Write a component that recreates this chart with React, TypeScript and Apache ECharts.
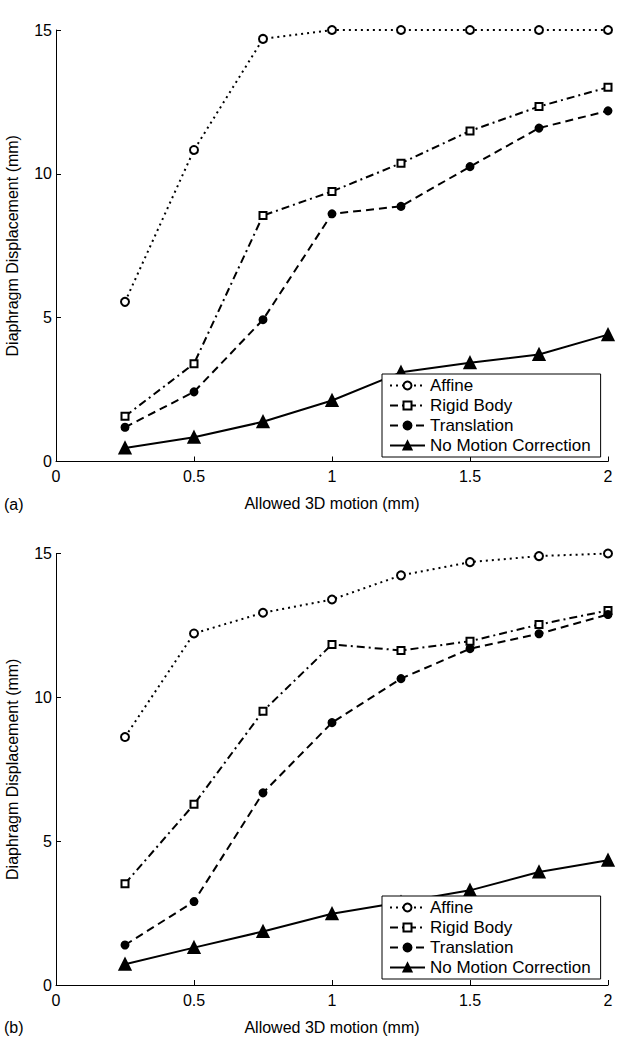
import React, { useEffect, useRef } from "react";
import * as echarts from "echarts";

const xValues = [0.25, 0.5, 0.75, 1, 1.25, 1.5, 1.75, 2];
const xTicks = ["0", "0.5", "1", "1.5", "2"];
const seriesNames = ["Affine", "Rigid Body", "Translation", "No Motion Correction"];

const affineA = [5.55, 10.83, 14.69, 15.0, 15.0, 15.0, 15.0, 15.0];
const rigidA = [1.57, 3.4, 8.55, 9.39, 10.37, 11.49, 12.34, 13.01];
const translationA = [1.19, 2.42, 4.93, 8.61, 8.87, 10.25, 11.59, 12.19];
const noMotionA = [0.47, 0.84, 1.38, 2.12, 3.1, 3.43, 3.72, 4.41];

const affineB = [8.62, 12.22, 12.94, 13.4, 14.24, 14.7, 14.91, 15.0];
const rigidB = [3.52, 6.28, 9.52, 11.84, 11.63, 11.95, 12.53, 13.02];
const translationB = [1.39, 2.9, 6.68, 9.12, 10.65, 11.69, 12.21, 12.88];
const noMotionB = [0.72, 1.3, 1.86, 2.48, 2.88, 3.29, 3.93, 4.34];

const FONT = "Liberation Sans";

const pairs = (ys: number[]) => xValues.map((x, i) => [x, ys[i]]);

const styles = [
  { symbol: "circle", symbolSize: 8, dash: [2, 4] as any, fill: "#fff" },
  { symbol: "rect", symbolSize: 7, dash: [8, 4, 2, 4] as any, fill: "#fff" },
  { symbol: "circle", symbolSize: 7, dash: [8, 5] as any, fill: "#000" },
  { symbol: "triangle", symbolSize: 11, dash: "solid" as any, fill: "#000" },
];

function makeSeries(idx: number, data: number[][], s: any, name: string) {
  return {
    type: "line",
    name,
    xAxisIndex: idx,
    yAxisIndex: idx,
    data,
    symbol: s.symbol,
    symbolSize: s.symbolSize,
    showAllSymbol: true,
    lineStyle: { color: "#000", width: 2, type: s.dash },
    itemStyle: { color: s.fill, borderColor: "#000", borderWidth: 2 },
    emphasis: { disabled: true },
  };
}

export default function App() {
  const ref = useRef<HTMLDivElement>(null);
  useEffect(() => {
    document.body.style.margin = "0";
    const chart = echarts.init(ref.current!, null, { renderer: "svg" });
    const grids = [
      { left: 56, right: 24, top: 30, height: 431.5, outerBoundsMode: "none", containLabel: false },
      { left: 56, right: 24, top: 553.5, height: 431.5, outerBoundsMode: "none", containLabel: false },
    ];
    const xAxis = grids.map((_, i) => ({
      type: "value",
      gridIndex: i,
      min: 0,
      max: 2,
      interval: 0.5,
      name: "Allowed 3D motion (mm)",
      nameLocation: "middle",
      nameGap: 34,
      nameTextStyle: { fontFamily: FONT, fontSize: 16, color: "#000" },
      axisLine: { show: true, lineStyle: { color: "#000", width: 1 } },
      axisTick: { show: true, inside: true, length: 5, lineStyle: { color: "#000" } },
      axisLabel: {
        fontFamily: FONT,
        fontSize: 16,
        color: "#000",
        margin: 7,
        formatter: (v: number) => xTicks[Math.round(v / 0.5)] ?? String(v),
      },
      splitLine: { show: false },
    }));
    const yAxis = grids.map((_, i) => ({
      type: "value",
      gridIndex: i,
      min: 0,
      max: 15,
      interval: 5,
      name: "Diaphragm Displacement (mm)",
      nameLocation: "middle",
      nameGap: 36,
      nameTextStyle: { fontFamily: FONT, fontSize: 16, color: "#000" },
      axisLine: { show: true, lineStyle: { color: "#000", width: 1 } },
      axisTick: { show: true, inside: true, length: 5, lineStyle: { color: "#000" } },
      axisLabel: { fontFamily: FONT, fontSize: 16, color: "#000", margin: 4 },
      splitLine: { show: false },
    }));
    const dataA = [affineA, rigidA, translationA, noMotionA];
    const dataB = [affineB, rigidB, translationB, noMotionB];
    const series: any[] = [];
    dataA.forEach((d, k) => series.push(makeSeries(0, pairs(d), styles[k], seriesNames[k])));
    dataB.forEach((d, k) => series.push(makeSeries(1, pairs(d), styles[k], seriesNames[k])));
    const legendBase = {
      orient: "vertical",
      left: 382,
      data: seriesNames,
      itemWidth: 35,
      itemHeight: 10,
      itemGap: 3,
      padding: [3, 10, 3, 7],
      borderColor: "#000",
      borderWidth: 1,
      backgroundColor: "#fff",
      selectedMode: false,
      textStyle: { fontFamily: FONT, fontSize: 17, color: "#000" },
    };
    chart.setOption({
      animation: false,
      backgroundColor: "#fff",
      grid: grids,
      xAxis,
      yAxis,
      series,
      legend: [
        { ...legendBase, top: 374 },
        { ...legendBase, top: 896 },
      ],
      graphic: [
        { type: "text", left: 4, top: 496, style: { text: "(a)", font: `16px "${FONT}"`, fill: "#000" } },
        { type: "text", left: 4, top: 1019, style: { text: "(b)", font: `16px "${FONT}"`, fill: "#000" } },
      ],
    });
    return () => chart.dispose();
  }, []);
  return <div ref={ref} style={{ width: 632, height: 1061 }} />;
}
